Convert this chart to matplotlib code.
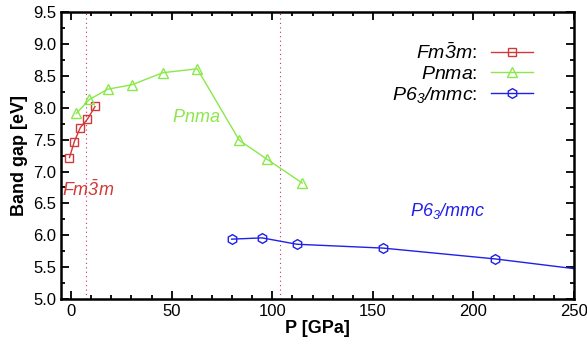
import matplotlib
matplotlib.use("Agg")
import matplotlib.pyplot as plt

plt.rcParams['font.family'] = ['Liberation Sans', 'DejaVu Sans']
plt.rcParams['mathtext.fontset'] = 'custom'
plt.rcParams['mathtext.it'] = 'Liberation Sans:italic'
# digits in the phase names are italic too
plt.rcParams['mathtext.rm'] = 'Liberation Sans:italic'

# data
fm3m_p = [-0.8, 1.6, 4.6, 8.1, 11.9]
fm3m_gap = [7.22, 7.47, 7.69, 7.82, 8.02]

pnma_p = [2.6, 9.1, 18.1, 30.2, 45.6, 62.7, 83.6, 97.5, 114.9]
pnma_gap = [7.91, 8.13, 8.29, 8.36, 8.55, 8.61, 7.49, 7.19, 6.82]

p63_p = [79.8, 94.9, 112.3, 155.0, 210.8, 270.0]
p63_gap = [5.94, 5.96, 5.86, 5.80, 5.63, 5.40]

transitions = [7.6, 104.0]

red = '#d03a3a'
green = '#8ae84a'
blue = '#2020e8'

fm3m_tex = r'$Fm\bar{3}m$'
pnma_tex = r'$Pnma$'
p63_tex = r'$P6_3/mmc$'

fig = plt.figure(figsize=(5.87, 3.45), dpi=100)
ax = fig.add_axes([0.104, 0.133, 0.874, 0.832])

for x in transitions:
    ax.axvline(x, color='#c8306a', ls=(0, (1, 3)), lw=0.8, zorder=1)

ax.plot(fm3m_p, fm3m_gap, '-s', color=red, mfc='none', ms=6, mew=1.0, lw=1.0,
        label=fm3m_tex + ':')
ax.plot(pnma_p, pnma_gap, '-^', color=green, mfc='none', ms=7, mew=1.0, lw=1.0,
        label=pnma_tex + ':')
ax.plot(p63_p, p63_gap, '-h', color=blue, mfc='none', ms=7, mew=1.0, lw=1.0,
        label=p63_tex + ':')

ax.text(62, 7.85, pnma_tex, color=green, fontsize=13, ha='center', va='center')
ax.text(-4.5, 6.72, fm3m_tex, color=red, fontsize=13, ha='left', va='center')
ax.text(187, 6.38, p63_tex, color=blue, fontsize=13, ha='center', va='center')

ax.set_xlim(-5, 250)
ax.set_ylim(5.0, 9.5)
ax.set_xticks([0, 50, 100, 150, 200, 250])
ax.set_xticks(range(0, 251, 10), minor=True)
ax.set_yticks([5.0 + 0.5 * i for i in range(10)])
ax.set_yticks([5.0 + 0.25 * i for i in range(19)], minor=True)
ax.yaxis.set_major_formatter(matplotlib.ticker.FormatStrFormatter('%.1f'))

ax.tick_params(which='both', direction='in', top=True, right=True,
               labelsize=12, width=1.3)
ax.tick_params(which='major', length=6)
ax.tick_params(which='minor', length=3)
for s in ax.spines.values():
    s.set_linewidth(1.8)

ax.set_xlabel('P [GPa]', fontsize=13, fontweight='bold', labelpad=1)
ax.set_ylabel('Band gap [eV]', fontsize=13, fontweight='bold', labelpad=4)

ax.legend(loc='upper right', bbox_to_anchor=(0.955, 0.955), frameon=False,
          markerfirst=False, fontsize=14, handlelength=2.2, labelspacing=0.1,
          handletextpad=0.7)

fig.savefig('out.png', dpi=100)
